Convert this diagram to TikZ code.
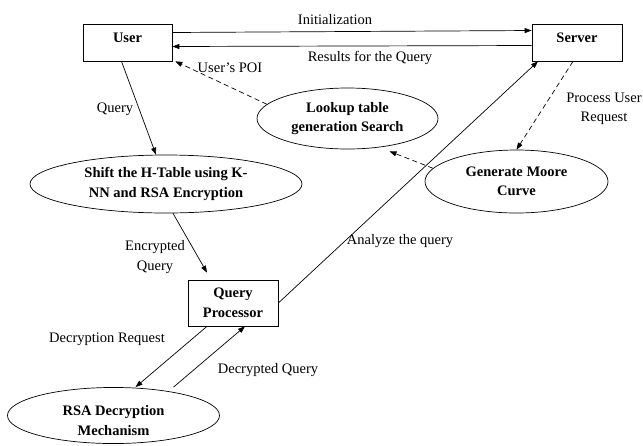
\documentclass[tikz,border=0pt]{standalone}
\usepackage{fontspec}
\setmainfont{Liberation Serif}
\usetikzlibrary{arrows.meta,shapes.geometric}
\newcommand{\diagfont}{\fontsize{14.5}{19.5}\selectfont}
\tikzset{
  box/.style={draw, rectangle, font=\diagfont\bfseries, align=center, inner sep=2pt, line width=0.7pt},
  oval/.style={draw, ellipse, font=\diagfont\bfseries, align=center, inner sep=0pt, line width=0.7pt},
  lbl/.style={font=\diagfont, align=center, inner sep=1pt},
  edge/.style={-{Triangle[length=7pt,width=5pt]}, line width=0.7pt},
  dedge/.style={edge, dash pattern=on 5pt off 3.5pt},
}
\begin{document}
\begin{tikzpicture}[x=1pt, y=-1pt]
  \useasboundingbox (0,0) rectangle (643,445);
  % actors
  \node[box, minimum width=89pt, minimum height=37pt, text depth=10pt] (user) at (127.5,42.5) {User};
  \node[box, minimum width=90pt, minimum height=37pt, text depth=10pt] (server) at (577,42.5) {Server};
  \node[box, minimum width=90pt, minimum height=46pt] (qp) at (233,303) {Query\\Processor};
  % processes
  \node[oval, minimum width=181pt, minimum height=61pt] (lookup) at (347.5,118.5) {Lookup table\\generation Search};
  \node[oval, minimum width=183pt, minimum height=63pt] (moore) at (516.5,181.5) {Generate Moore\\Curve};
  \node[oval, minimum width=272pt, minimum height=58pt] (shift) at (166,184) {Shift the H-Table using K-\\NN and RSA Encryption};
  \node[oval, minimum width=212pt, minimum height=55pt] (rsa) at (113.5,415.5) {\rule{0pt}{20pt}RSA Decryption\\Mechanism};
  % flows
  \draw[edge] ([yshift=10pt]user.east) -- ([yshift=12pt]server.west);
  \draw[edge] ([yshift=-3pt]server.west) -- ([yshift=-4pt]user.east);
  \draw[dedge] (lookup.170) -- ([xshift=3pt]user.south east);
  \draw[edge] ([xshift=-6pt]user.south) -- ([xshift=-10pt]shift.north);
  \draw[dedge] ([xshift=-4pt]server.south) -- (moore.north);
  \draw[dedge] (moore.171) -- ([xshift=42pt,yshift=-2pt]lookup.south);
  \draw[edge] ([xshift=7pt]shift.south) -- ([xshift=-26pt,yshift=7pt]qp.north);
  \draw[edge] (qp.east) -- ([xshift=-39pt]server.south);
  \draw[edge] ([xshift=-26pt]qp.south) -- ([xshift=22pt]rsa.north);
  \draw[edge] ([xshift=60pt]rsa.north) -- ([xshift=12pt]qp.south);
  % flow labels
  \node[lbl] (linit) at (335,20) {Initialization};
  \node[lbl] (lres) at (370,58) {Results for the Query};
  \node[lbl] (lpoi) at (230,68) {User's POI};
  \node[lbl] (lquery) at (115,109) {Query};
  \node[lbl] (lproc) at (604,109) {Process User\\Request};
  \node[lbl] (lenc) at (155,257) {Encrypted\\Query};
  \node[lbl] (lana) at (400,241) {Analyze the query};
  \node[lbl] (ldreq) at (107,339) {Decryption Request};
  \node[lbl] (ldq) at (268,370) {Decrypted Query};
\end{tikzpicture}
\end{document}
